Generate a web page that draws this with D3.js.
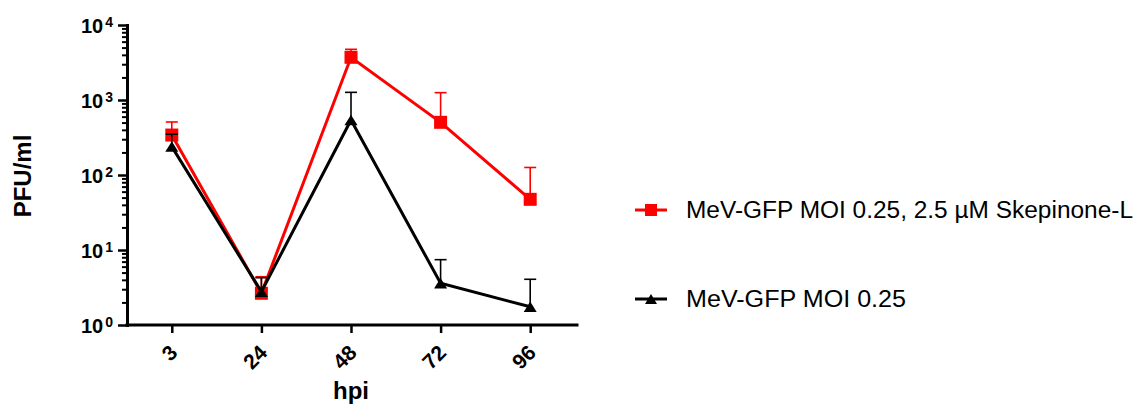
<!DOCTYPE html>
<html>
<head>
<meta charset="utf-8">
<script src="https://cdn.jsdelivr.net/npm/d3@7"></script>
<style>
  html, body { margin: 0; padding: 0; background: #fff; }
  svg { display: block; font-family: Arial, "Liberation Sans", Helvetica, sans-serif; }
</style>
</head>
<body>
<svg id="chart" width="1147" height="405"></svg>
<script>
// Time points (hours post infection)
const hpi = ["3", "24", "48", "72", "96"];

// Mean titres (PFU/ml) and upper error values for each series
const skepinoneMean  = [341, 2.65, 3710, 504, 47.4];
const skepinoneUpper = [509, 4.4, 4740, 1253, 126];
const controlMean    = [239, 2.78, 541, 3.6, 1.75];
const controlUpper   = [350, 4.27, 1265, 7.43, 4.07];

// Y axis decades and legend labels
const yDecades = [1, 10, 100, 1000, 10000];
const seriesLabels = ["MeV-GFP MOI 0.25, 2.5 \u00b5M Skepinone-L", "MeV-GFP MOI 0.25"];
const seriesColors = ["#ff0000", "#000000"];

const svg = d3.select("#chart");

const x = d3.scalePoint().domain(hpi).range([127, 575]).padding(0.5);
const y = d3.scaleLog().domain([1, 10000]).range([325, 25]);

// ---- Y axis: minor ticks, major ticks, superscript labels
const minorVals = [];
for (let d = 1; d < 10000; d *= 10) for (let m = 2; m <= 9; m++) minorVals.push(d * m);

const yMinor = svg.append("g").attr("transform", "translate(127,0)")
  .call(d3.axisLeft(y).tickValues(minorVals).tickSize(5).tickSizeOuter(0).tickFormat(""));
yMinor.select(".domain").remove();
yMinor.selectAll(".tick line").attr("stroke", "#000").attr("stroke-width", 2);

const yMajor = svg.append("g").attr("transform", "translate(127,0)")
  .call(d3.axisLeft(y).tickValues(yDecades).tickSize(9).tickSizeOuter(0).tickFormat(""));
yMajor.select(".domain").attr("stroke", "#000").attr("stroke-width", 3).attr("stroke-linecap", "square");
yMajor.selectAll(".tick line").attr("stroke", "#000").attr("stroke-width", 2.5);

const yLabels = svg.append("g");
yDecades.forEach(v => {
  const t = yLabels.append("text")
    .attr("x", 113).attr("y", y(v) + 8)
    .attr("text-anchor", "end")
    .attr("font-weight", "bold")
    .attr("fill", "#000");
  t.append("tspan").attr("font-size", 20).text("10");
  t.append("tspan").attr("font-size", 14).attr("dx", 2).attr("dy", -6).text(String(Math.round(Math.log10(v))));
});

// ---- X axis
const xAxis = svg.append("g").attr("transform", "translate(0,325)")
  .call(d3.axisBottom(x).tickSize(8).tickSizeOuter(0).tickFormat(""));
xAxis.select(".domain").attr("stroke", "#000").attr("stroke-width", 3).attr("stroke-linecap", "square")
  .attr("d", "M127,0H577");
xAxis.selectAll(".tick line").attr("stroke", "#000").attr("stroke-width", 2.5);

svg.append("g").selectAll("text").data(hpi).join("text")
  .attr("transform", d => `translate(${x(d) + 7},354) rotate(-45)`)
  .attr("text-anchor", "end")
  .attr("font-size", 21).attr("font-weight", "bold").attr("fill", "#000")
  .text(d => d);

// ---- Axis titles
svg.append("text")
  .attr("x", 351).attr("y", 399)
  .attr("text-anchor", "middle")
  .attr("font-size", 24).attr("font-weight", "bold")
  .text("hpi");

svg.append("text")
  .attr("transform", "translate(31,176) rotate(-90)")
  .attr("text-anchor", "middle")
  .attr("font-size", 24).attr("font-weight", "bold")
  .text("PFU/ml");

// ---- Markers
const squarePath = s => `M${-s / 2},${-s / 2}h${s}v${s}h${-s}Z`;
const trianglePath = (w, h) => `M0,${-h / 2}L${w / 2},${h / 2}L${-w / 2},${h / 2}Z`;
const markerPaths = [squarePath(13), trianglePath(13, 10.5)];

// ---- Series
const series = [
  { mean: skepinoneMean, upper: skepinoneUpper },
  { mean: controlMean, upper: controlUpper }
];

const line = d3.line().x(d => d.x).y(d => d.y);

series.forEach((s, i) => {
  const color = seriesColors[i];
  const pts = hpi.map((h, k) => ({ x: x(h), y: y(s.mean[k]), yt: y(s.upper[k]) }));
  const g = svg.append("g");

  // upward error bars with caps
  g.selectAll("line.err").data(pts).join("line")
    .attr("class", "err")
    .attr("x1", d => d.x).attr("x2", d => d.x)
    .attr("y1", d => d.y).attr("y2", d => d.yt)
    .attr("stroke", color).attr("stroke-width", 1.6);
  g.selectAll("line.cap").data(pts).join("line")
    .attr("class", "cap")
    .attr("x1", d => d.x - 6).attr("x2", d => d.x + 6)
    .attr("y1", d => d.yt).attr("y2", d => d.yt)
    .attr("stroke", color).attr("stroke-width", 1.6);

  g.append("path").datum(pts)
    .attr("d", line)
    .attr("fill", "none").attr("stroke", color).attr("stroke-width", 3)
    .attr("stroke-linejoin", "miter");

  g.selectAll("path.mk").data(pts).join("path")
    .attr("class", "mk")
    .attr("transform", d => `translate(${d.x},${d.y})`)
    .attr("d", markerPaths[i])
    .attr("fill", color);
});

// ---- Legend
const legendY = [210, 299];
const legendWidths = [447, 220];
const legend = svg.append("g");
seriesLabels.forEach((label, i) => {
  const ly = legendY[i];
  legend.append("line")
    .attr("x1", 635).attr("x2", 667).attr("y1", ly).attr("y2", ly)
    .attr("stroke", seriesColors[i]).attr("stroke-width", 3);
  legend.append("path")
    .attr("transform", `translate(651,${ly})`)
    .attr("d", i === 0 ? squarePath(12) : trianglePath(12, 10))
    .attr("fill", seriesColors[i]);
  legend.append("text")
    .attr("x", 686).attr("y", ly + 8)
    .attr("font-size", 23).attr("fill", "#000")
    .attr("textLength", legendWidths[i])
    .attr("lengthAdjust", "spacingAndGlyphs")
    .text(label);
});
</script>
</body>
</html>
